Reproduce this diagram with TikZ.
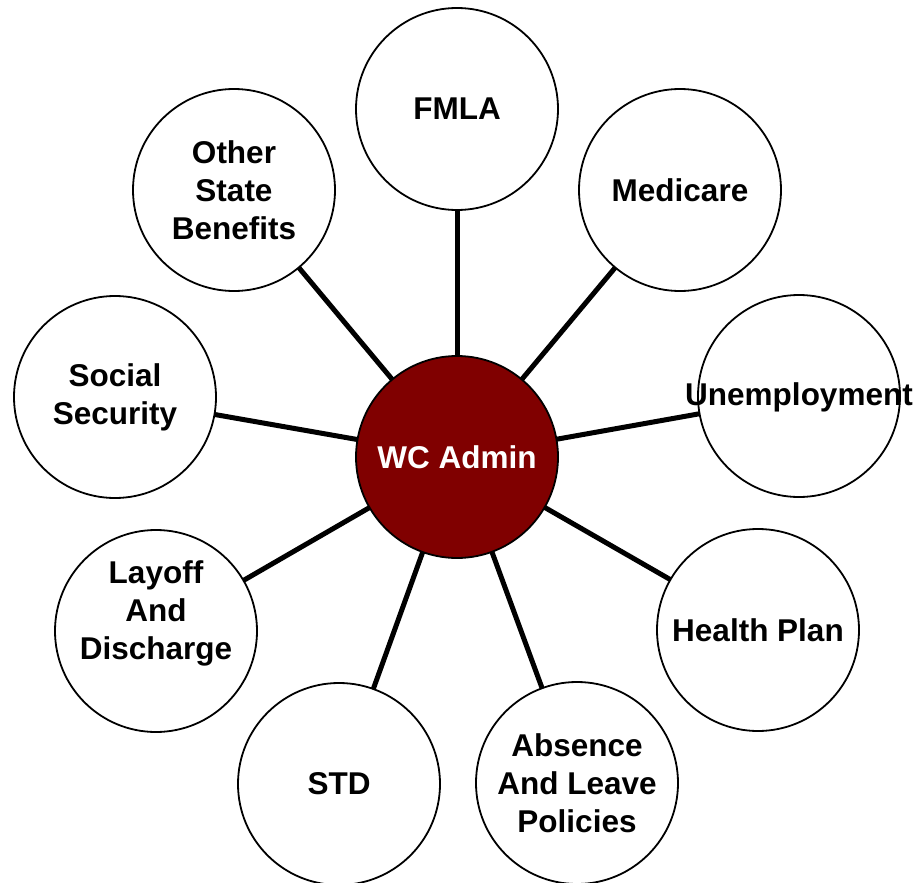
\documentclass[tikz,border=0pt]{standalone}
\usepackage{fontspec}
\setmainfont{Liberation Sans}
\definecolor{wcred}{RGB}{128,0,0}
\begin{document}
\begin{tikzpicture}[x=1pt,y=-1pt,
  bubtext/.style={align=center,font=\fontsize{31.5}{38}\selectfont\bfseries},
  bubble/.style={circle,draw=black,line width=1.8pt,fill=white,minimum size=202pt,inner sep=0pt,outer sep=0pt,bubtext},
  hub/.style={bubble,fill=wcred,text=white},
  link/.style={line width=5pt,draw=black}]
\useasboundingbox (0,0) rectangle (919,883);
\node[hub] (wc) at (457,457) {WC Admin};
\node[bubble] (fmla) at (457,109) {FMLA};
\node[bubble] (med) at (680,190) {Medicare};
\node[bubble,label={[bubtext,yshift=-1pt]center:Unemployment}] (unemp) at (799,396) {};
\node[bubble] (health) at (758,630) {Health Plan};
\node[bubble] (absence) at (577,783) {Absence\\And Leave\\Policies};
\node[bubble] (std) at (339,784) {STD};
\node[bubble,label={[bubtext,yshift=18pt]center:Layoff\\And\\Discharge}] (layoff) at (156,631) {};
\node[bubble] (social) at (115,397) {Social\\Security};
\node[bubble] (other) at (234,190) {Other\\State\\Benefits};
\foreach \n in {fmla,med,unemp,health,absence,std,layoff,social,other}
  \draw[link] (wc) -- (\n);
\end{tikzpicture}
\end{document}
